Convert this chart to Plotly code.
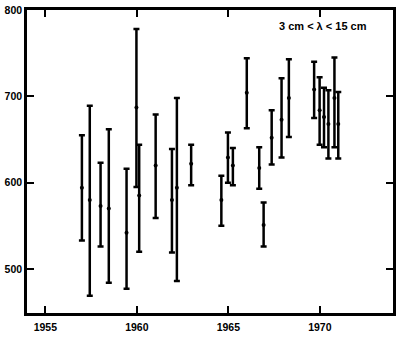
import plotly.graph_objects as go

years = [1957.0, 1957.43, 1958.02, 1958.47, 1959.44, 1959.98, 1960.13, 1961.03, 1961.92,
         1962.19, 1962.97, 1964.62, 1964.98, 1965.25, 1966.01, 1966.69, 1966.93, 1967.37,
         1967.91, 1968.31, 1969.69, 1969.99, 1970.23, 1970.47, 1970.80, 1971.01]
centers = [594, 580, 573, 570, 542, 687, 585, 620, 580, 594, 622, 580, 629, 620, 704, 617,
           551, 652, 673, 698, 708, 684, 676, 668, 698, 668]
highs = [655, 689, 623, 662, 616, 778, 644, 679, 639, 698, 644, 608, 658, 640, 744, 641,
         577, 684, 721, 743, 740, 722, 710, 707, 745, 705]
lows = [533, 469, 526, 484, 477, 595, 520, 559, 519, 486, 597, 550, 600, 597, 663, 593,
        526, 621, 629, 653, 675, 644, 641, 628, 641, 628]

x_ticks = [1955, 1960, 1965, 1970]
y_ticks = [500, 600, 700, 800]
label = "3 cm < λ < 15 cm"

plus = [h - c for h, c in zip(highs, centers)]
minus = [c - l for c, l in zip(centers, lows)]

fig = go.Figure()
fig.add_trace(go.Scatter(
    x=years, y=centers, mode="markers",
    marker=dict(color="black", size=4),
    error_y=dict(type="data", symmetric=False, array=plus, arrayminus=minus,
                 color="black", thickness=2.5, width=3),
    showlegend=False,
))

axis_common = dict(
    showline=True, linecolor="black", linewidth=2.5, mirror="allticks",
    ticks="inside", ticklen=7, tickwidth=2, tickcolor="black",
    showgrid=False, zeroline=False,
    tickfont=dict(family="Liberation Sans", size=10.5, color="black", weight="bold"),
)

fig.update_layout(
    width=400, height=337,
    margin=dict(l=27, r=4, t=6, b=14),
    plot_bgcolor="white", paper_bgcolor="white",
    xaxis=dict(range=[1954.0, 1974.0], tickvals=x_ticks, ticklabelstandoff=3, **axis_common),
    yaxis=dict(range=[449, 800], tickvals=y_ticks, **axis_common),
    annotations=[dict(
        x=1970.2, y=781, xref="x", yref="y", text=label, showarrow=False,
        font=dict(family="Liberation Sans", size=11, color="black", weight="bold"),
    )],
)

fig.write_html("out.html")
